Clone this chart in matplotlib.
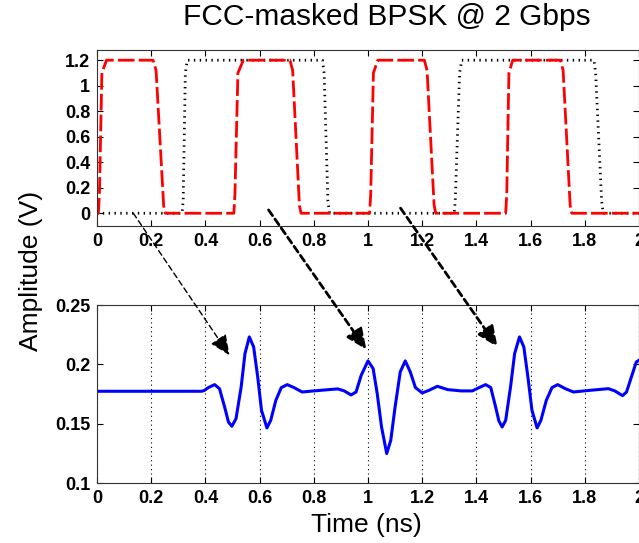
import numpy as np
import matplotlib.pyplot as plt
from matplotlib.patches import ConnectionPatch

plt.rcParams['font.family'] = ['Liberation Sans', 'DejaVu Sans']

# top panel: two bit streams (V)
red_t = [0, 0.005, 0.009, 0.018, 0.035, 0.207, 0.218, 0.246, 0.252,
         0.505, 0.509, 0.52, 0.54, 0.712, 0.722, 0.747, 0.753,
         1.006, 1.01, 1.02, 1.036, 1.208, 1.218, 1.244, 1.25,
         1.508, 1.512, 1.52, 1.534, 1.71, 1.72, 1.746, 1.752, 2.0]
red_v = [0, 0, 0.15, 1.1, 1.2, 1.2, 1.12, 0.06, 0,
         0, 0.15, 1.1, 1.2, 1.2, 1.12, 0.06, 0,
         0, 0.15, 1.1, 1.2, 1.2, 1.12, 0.06, 0,
         0, 0.15, 1.1, 1.2, 1.2, 1.12, 0.06, 0, 0]
blk_t = [0, 0.314, 0.318, 0.326, 0.333, 0.832, 0.838, 0.852, 0.858,
         1.318, 1.322, 1.338, 1.346, 1.834, 1.84, 1.862, 1.868, 2.0]
blk_v = [0, 0, 0.1, 1.1, 1.2, 1.2, 1.1, 0.1, 0,
         0, 0.1, 1.1, 1.2, 1.2, 1.1, 0.1, 0, 0]

# bottom panel: received FCC-masked pulse (V)
rx_t = [0, 0.385, 0.395, 0.41, 0.434, 0.452, 0.471, 0.485, 0.4976, 0.513,
        0.532, 0.546, 0.562, 0.578, 0.593, 0.607, 0.627, 0.641, 0.66, 0.68,
        0.702, 0.727, 0.757, 0.8, 0.856, 0.888, 0.9125, 0.9375, 0.956, 0.975,
        1.0, 1.019, 1.034, 1.05, 1.069, 1.084, 1.1, 1.119, 1.1375, 1.156,
        1.175, 1.2, 1.225, 1.256, 1.294, 1.344, 1.385, 1.41, 1.434, 1.453,
        1.471, 1.483, 1.495, 1.508, 1.526, 1.541, 1.559, 1.575, 1.59, 1.605,
        1.624, 1.638, 1.658, 1.679, 1.7, 1.728, 1.758, 1.819, 1.887, 1.911,
        1.939, 1.954, 1.972, 1.99, 2.0]
rx_v = [0.1773, 0.1773, 0.1778, 0.1803, 0.1829, 0.1795, 0.164, 0.1514, 0.1478, 0.1542,
        0.181, 0.209, 0.2231, 0.2147, 0.1894, 0.1613, 0.1464, 0.1528, 0.1697, 0.1804,
        0.1829, 0.1804, 0.1767, 0.1776, 0.1787, 0.1793, 0.1776, 0.1742, 0.1767, 0.1908,
        0.2029, 0.1964, 0.1753, 0.1472, 0.1248, 0.136, 0.1641, 0.1936, 0.2029, 0.1936,
        0.1804, 0.1759, 0.1781, 0.1815, 0.1787, 0.1776, 0.1776, 0.1804, 0.1829, 0.1804,
        0.164, 0.1523, 0.1472, 0.1528, 0.181, 0.209, 0.2231, 0.2147, 0.1894, 0.1613,
        0.1464, 0.1528, 0.1697, 0.1804, 0.1829, 0.1795, 0.1767, 0.1781, 0.1795, 0.1776,
        0.1736, 0.1767, 0.1894, 0.202, 0.2034]

xticks = [0, 0.2, 0.4, 0.6, 0.8, 1, 1.2, 1.4, 1.6, 1.8, 2]
xtick_labels = ['0', '0.2', '0.4', '0.6', '0.8', '1', '1.2', '1.4', '1.6', '1.8', '2']
top_yticks = [0, 0.2, 0.4, 0.6, 0.8, 1, 1.2]
top_ylabels = ['0', '0.2', '0.4', '0.6', '0.8', '1', '1.2']
bot_yticks = [0.1, 0.15, 0.2, 0.25]
bot_ylabels = ['0.1', '0.15', '0.2', '0.25']

# arrows: bit edge (top panel) -> pulse (bottom panel)
arrow_start_t = [0.134, 0.633, 1.12]
arrow_start_v = [0.0, 0.026, 0.04]
arrow_end_t = [0.489, 0.994, 1.478]
arrow_end_v = [0.2076, 0.2124, 0.2146]
arrow_lw = [1.0, 2.0, 2.0]

fig = plt.figure(figsize=(6.39, 5.43), dpi=100)
ax1 = fig.add_axes([97/639, 1-226/543, 542/639, 176/543])
ax2 = fig.add_axes([97/639, 1-483/543, 542/639, 178/543])

ax1.plot(blk_t, blk_v, color='k', lw=2.0, linestyle=(0, (0.5, 1.6)))
ax1.plot(red_t, red_v, color='red', lw=2.0, linestyle=(0, (6, 1.5)))
ax1.set_xlim(0, 2)
ax1.set_ylim(-0.1, 1.28)
ax1.set_yticks(top_yticks)
ax1.set_yticklabels(top_ylabels)

ax2.plot(rx_t, rx_v, color='#0000ff', lw=2.2)
ax2.set_xlim(0, 2)
ax2.set_ylim(0.1, 0.25)
ax2.set_yticks(bot_yticks)
ax2.set_yticklabels(bot_ylabels)
ax2.grid(axis='x', color='k', lw=0.8, linestyle=(0, (1, 3)))

for ax in (ax1, ax2):
    ax.set_xticks(xticks)
    ax.set_xticklabels(xtick_labels)
    ax.tick_params(direction='in', length=4, width=0.8, top=True, right=True,
                   labelsize=13, pad=5)
    for lab in ax.get_xticklabels() + ax.get_yticklabels():
        lab.set_fontweight('bold')
    for s in ax.spines.values():
        s.set_linewidth(0.8)
        s.set_color('#333333')

for i in range(len(arrow_start_t)):
    con = ConnectionPatch(xyA=(arrow_start_t[i], arrow_start_v[i]), coordsA=ax1.transData,
                          xyB=(arrow_end_t[i], arrow_end_v[i]), coordsB=ax2.transData,
                          arrowstyle='-|>,head_length=0.9,head_width=0.4',
                          mutation_scale=14, color='k', lw=arrow_lw[i],
                          linestyle=(0, (4, 2.5)) if arrow_lw[i] < 1.5 else (0, (2.5, 1.5)))
    fig.add_artist(con)

fig.text(387/639, 1-17/543, 'FCC-masked BPSK @ 2 Gbps', ha='center', va='center', fontsize=21.5)
fig.text(31/639, 1-271/543, 'Amplitude (V)', ha='center', va='center', rotation=90, fontsize=19)
fig.text(366/639, 1-525/543, 'Time (ns)', ha='center', va='center', fontsize=19)

fig.savefig('out.png', dpi=100)
